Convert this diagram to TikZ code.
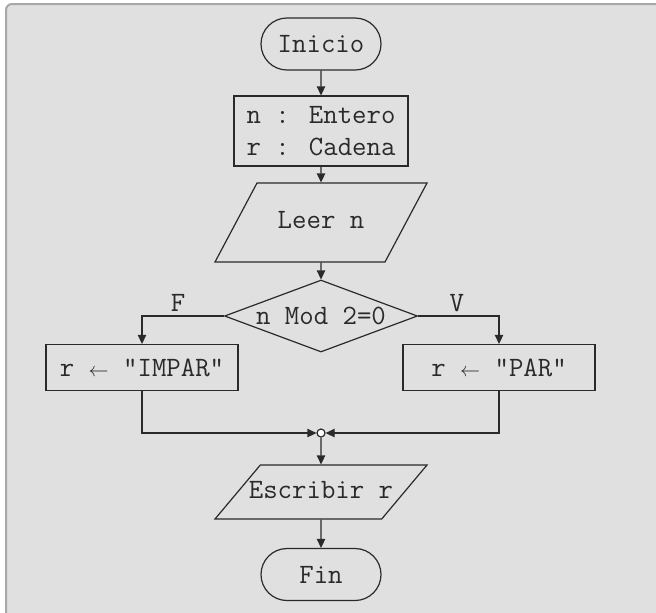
\documentclass[tikz,border=0pt]{standalone}
\usepackage{fontspec}
\usetikzlibrary{shapes.geometric, shapes.misc, arrows.meta}

\definecolor{panelgray}{HTML}{E0E0E0}
\definecolor{framegray}{HTML}{A8A8A8}
\definecolor{inkgray}{HTML}{2A2A2A}

\newcommand{\asigna}{\ensuremath{\scriptstyle\leftarrow}}

\tikzset{
  every node/.style={font=\ttfamily\fontsize{14}{16}\selectfont, text=inkgray},
  terminal/.style={rounded rectangle, draw=inkgray, line width=0.6pt, minimum width=60pt, minimum height=26pt, inner sep=0pt},
  process/.style={rectangle, draw=inkgray, line width=0.6pt, minimum width=96pt, minimum height=23pt, inner sep=0pt},
  iobox/.style={trapezium, trapezium stretches body, draw=inkgray, line width=0.6pt, inner xsep=0pt, text height=9pt, text depth=3pt},
  decision/.style={diamond, aspect=2.68, draw=inkgray, line width=0.6pt, minimum width=96.5pt, minimum height=36pt, inner sep=0pt},
  flow/.style={draw=inkgray, line width=0.6pt, -{Triangle[length=4.5pt, width=4.2pt]}},
  joint/.style={circle, draw=inkgray, fill=white, line width=0.6pt, minimum size=4pt, inner sep=0pt}
}

\begin{document}
\begin{tikzpicture}[x=0.5pt, y=-0.5pt]
\useasboundingbox (0,0) rectangle (656,612);

% Panel
\begin{scope}
\clip (0,0) rectangle (656,612);
\draw[fill=panelgray, draw=framegray, line width=1pt, rounded corners=3pt] (6,4) rectangle (680,640);
\end{scope}

% Nodes
\node[terminal] (ini) at (321,44) {Inicio};
\node[process, minimum width=87pt, minimum height=35pt, align=left] (decl) at (321,131) {n : Entero\\r : Cadena};
\node[iobox, trapezium left angle=62, trapezium right angle=118, minimum width=106pt, inner ysep=13.75pt] (leer) at (321,222.5) {Leer n};
\node[decision] (cond) at (321,316) {n Mod 2=0};
\node[process] (impar) at (142,367.5) {r \asigna{} “IMPAR”};
\node[process] (par) at (499,367.5) {r \asigna{} “PAR”};
\node[joint] (join) at (321,433) {};
\node[iobox, trapezium left angle=50, trapezium right angle=130, minimum width=106pt, inner xsep=-6.5pt, inner ysep=7.5pt] (esc) at (321,492) {Escribir r};
\node[terminal] (fin) at (321,574.5) {Fin};

% Connectors
\draw[flow] (ini) -- (decl);
\draw[flow] (decl) -- (leer);
\draw[flow] (leer.south) -- (cond.north);
\draw[flow] (cond.west) -| node[pos=0.28, above, inner sep=2pt] (lblF) {F} (impar.north);
\draw[flow] (cond.east) -| node[pos=0.24, above, inner sep=2pt] (lblV) {V} (par.north);
\draw[flow] (impar.south) |- (join.west);
\draw[flow] (par.south) |- (join.east);
\draw[flow] (join) -- (esc);
\draw[flow] (esc) -- (fin);

\end{tikzpicture}
\end{document}
